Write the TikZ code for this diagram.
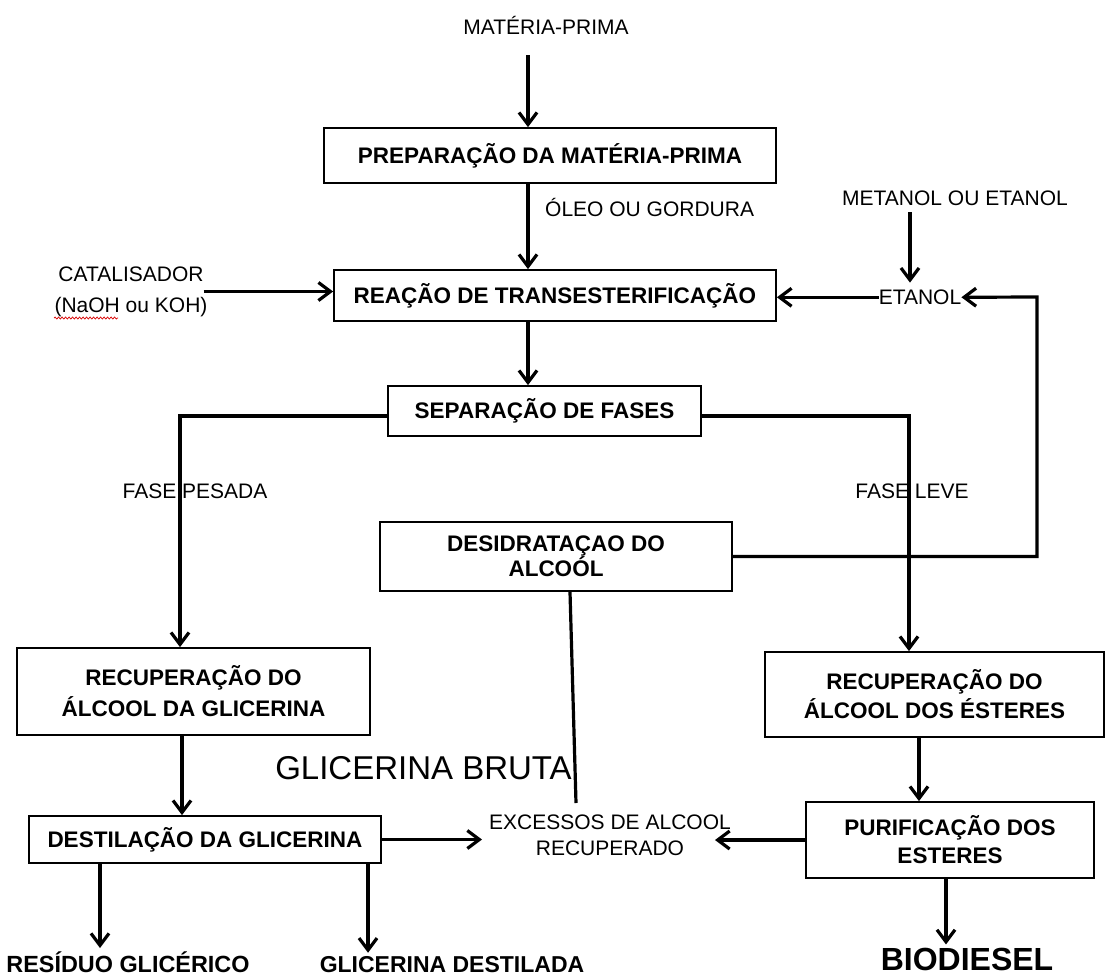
\documentclass[tikz,border=0pt]{standalone}
\usepackage{fontspec}
\setmainfont{Liberation Sans}
\usetikzlibrary{arrows.meta,calc,decorations.pathmorphing}
\begin{document}
\begin{tikzpicture}[x=1pt,y=-1pt]
\tikzset{
 box/.style={draw, line width=1.8pt, inner sep=0pt, align=center, font=\bfseries\fontsize{22.5}{28}\selectfont},
 lbl/.style={inner sep=0pt, font=\fontsize{21}{26}\selectfont},
 arr/.style={line width=3.2pt, -{Straight Barb[length=12pt,width=18pt]}},
 ln/.style={line width=3.2pt},
}
\useasboundingbox (0,0) rectangle (1109,975);
\fill[white] (0,0) rectangle (1109,975);
\clip (0,0) rectangle (1109,975);

% boxes
\node[box, minimum width=452pt, minimum height=55pt] (prep) at (550,155.5) {PREPARAÇÃO DA MATÉRIA-PRIMA};
\node[box, minimum width=442pt, minimum height=51pt] (reac) at (555,295.5) {REAÇÃO DE TRANSESTERIFICAÇÃO};
\node[box, minimum width=313pt, minimum height=50pt] (sep) at (544.5,411) {SEPARAÇÃO DE FASES};
\node[box, minimum width=352pt, minimum height=69pt, font=\bfseries\fontsize{22.5}{25}\selectfont] (desid) at (556,556.5) {DESIDRATAÇAO DO\\ALCOÓL};
\node[box, minimum width=353pt, minimum height=87pt, font=\bfseries\fontsize{22.5}{31}\selectfont] (recg) at (193.5,691.5) {RECUPERAÇÃO DO\\ÁLCOOL DA GLICERINA};
\node[box, minimum width=352pt, minimum height=47pt] (dest) at (205,839.5) {DESTILAÇÃO DA GLICERINA};
\node[box, minimum width=339pt, minimum height=85pt, font=\bfseries\fontsize{22.5}{29}\selectfont] (rece) at (934.5,694.5) {RECUPERAÇÃO DO\\ÁLCOOL DOS ÉSTERES};
\node[box, minimum width=288pt, minimum height=76pt, font=\bfseries\fontsize{22.5}{28}\selectfont] (puri) at (950,840) {PURIFICAÇÃO DOS\\ESTERES};

% labels
\node[lbl, anchor=base] (mp) at (546,34.5) {MATÉRIA-PRIMA};
\node[lbl, anchor=base west] (oleo) at (545,216.5) {ÓLEO OU GORDURA};
\node[lbl, align=center, font=\fontsize{21}{31}\selectfont] (cat) at (131,291.5) {CATALISADOR\\(NaOH ou KOH)};
\node[lbl, anchor=base] (met) at (955,205.5) {METANOL OU ETANOL};
\node[lbl, anchor=base] (eta) at (920,304.5) {ETANOL};
\node[lbl, anchor=base] (fp) at (195,498.5) {FASE PESADA};
\node[lbl, anchor=base] (fl) at (912,498.5) {FASE LEVE};
\node[lbl, anchor=base, font=\fontsize{33}{38}\selectfont] (gb) at (423.5,779.5) {GLICERINA BRUTA};
\node[lbl, align=center] (exc) at (610,835) {EXCESSOS DE ALCOOL\\RECUPERADO};
\node[lbl, anchor=base, font=\bfseries\fontsize{23.4}{28}\selectfont] (res) at (128,972) {RESÍDUO GLICÉRICO};
\node[lbl, anchor=base, font=\bfseries\fontsize{23}{28}\selectfont] (gd) at (452,972) {GLICERINA DESTILADA};
\node[lbl, anchor=base, font=\bfseries\fontsize{32}{38}\selectfont] (bio) at (967,970) {BIODIESEL};

% spell-check underline
\draw[red!85!black, line width=0.7pt, decorate, decoration={snake, amplitude=1pt, segment length=3.5pt}] (54,318) -- (118,318);

% connectors
\coordinate (ax) at (528,55);
\draw[arr] (ax) -- (ax |- prep.north);
\draw[arr] (ax |- prep.south) -- (ax |- reac.north);
\draw[arr] (ax |- reac.south) -- (ax |- sep.north);
\draw[arr] ([xshift=-4pt]cat.east) -- (cat.east -| reac.west);
\coordinate (mx) at (910,212);
\draw[arr, shorten >=7pt] (mx) -- (mx |- eta.north);
\draw[arr] (eta.west) -- (eta.west -| reac.east);
\coordinate (lc) at (1037,297);
\draw[arr] (desid.east) -| (lc) -- (eta.east);
\coordinate (lx) at (180,416);
\draw[arr] (lx -| sep.west) -| (lx |- recg.north);
\coordinate (rx) at (909,416);
\draw[arr] (rx -| sep.east) -| (rx |- rece.north);
\coordinate (dx) at (570,0);
\coordinate (de) at (576,803);
\draw[ln] (dx |- desid.south) -- (de);
\coordinate (gx) at (182,0);
\draw[arr] (gx |- recg.south) -- (gx |- dest.north);
\draw[arr] (dest.east) -- ([xshift=-7pt]exc.west |- dest.east);
\draw[arr] (puri.west) -- ([xshift=-16pt]exc.east |- puri.west);
\coordinate (x1) at (100,0);
\coordinate (x2) at (368,0);
\draw[arr, shorten >=3pt] (x1 |- dest.south) -- (x1 |- res.north);
\draw[arr, shorten >=3pt] (x2 |- dest.south) -- (x2 |- gd.north);
\coordinate (px) at (919,0);
\draw[arr] (px |- rece.south) -- (px |- puri.north);
\coordinate (bx) at (946,0);
\draw[arr, shorten >=3pt] (bx |- puri.south) -- (bx |- bio.north);
\end{tikzpicture}
\end{document}
